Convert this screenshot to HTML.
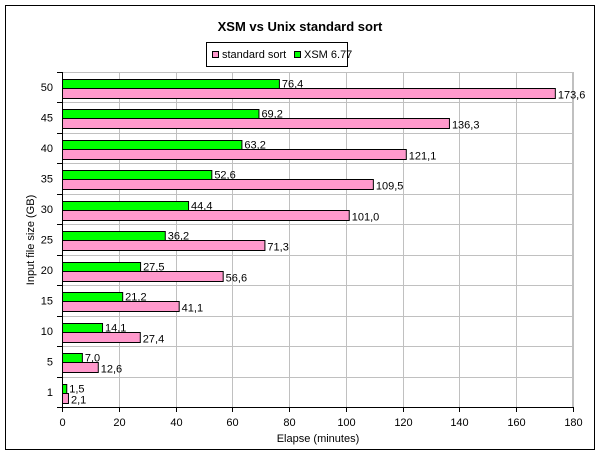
<!DOCTYPE html><html><head><style>body{margin:0;background:#fff}svg{display:block}text{font-family:"Liberation Sans",Arial,sans-serif;font-size:11px;fill:#000}</style></head><body>
<svg width="601" height="457" xmlns="http://www.w3.org/2000/svg">
<rect x="5.5" y="5.5" width="589" height="444" fill="#fff" stroke="#000"/>
<text x="300" y="31" text-anchor="middle" style="font-size:13px;font-weight:bold">XSM vs Unix  standard sort</text>
<rect x="206.5" y="42.5" width="141" height="24" fill="#fff" stroke="#000"/>
<rect x="212.5" y="51.5" width="6" height="6" fill="#f9c" stroke="#000"/>
<text x="222" y="58">standard sort</text>
<rect x="294.5" y="51.5" width="6" height="6" fill="#0f0" stroke="#000"/>
<text x="304" y="58">XSM 6.77</text>
<g id="plot"></g>
<text x="318" y="442" text-anchor="middle">Elapse (minutes)</text>
<text transform="translate(34,240) rotate(-90)" text-anchor="middle">Input file size (GB)</text>
</svg>
<script>
const g=document.getElementById('plot');const ns='http://www.w3.org/2000/svg';
function el(t,a,txt){const e=document.createElementNS(ns,t);for(const k in a)e.setAttribute(k,a[k]);if(txt!=null)e.textContent=txt;g.appendChild(e);return e;}
const L=62,R=573,T=72,B=407,sc=(R-L)/180,ch=(B-T)/11;
for(let i=1;i<=9;i++){const x=Math.round(L+i*20*sc)+.5;el('line',{x1:x,x2:x,y1:T,y2:B,stroke:'#c0c0c0'});}
for(let i=1;i<11;i++){const y=Math.round(T+i*ch)+.5;el('line',{x1:L,x2:R,y1:y,y2:y,stroke:'#c0c0c0'});}
el('rect',{x:L+.5,y:T+.5,width:R-L-1,height:B-T,fill:'none',stroke:'#c0c0c0'});
const cats=['50','45','40','35','30','25','20','15','10','5','1'];
const xsm=[76.4,69.2,63.2,52.6,44.4,36.2,27.5,21.2,14.1,7.0,1.5];
const std=[173.6,136.3,121.1,109.5,101.0,71.3,56.6,41.1,27.4,12.6,2.1];
cats.forEach((c,i)=>{const y0=T+i*ch;const gy=Math.round(y0+7)+.5;
const gw=xsm[i]*sc,pw=std[i]*sc;
el('rect',{x:L+.5,y:gy,width:gw,height:9,fill:'#0f0',stroke:'#000'});
el('rect',{x:L+.5,y:gy+9,width:pw,height:10,fill:'#f9c',stroke:'#000'});
el('text',{x:L+gw+3,y:gy+8},xsm[i].toFixed(1).replace('.',','));
el('text',{x:L+pw+3,y:gy+19},std[i].toFixed(1).replace('.',','));
el('text',{x:53,y:y0+ch/2+4,'text-anchor':'end'},c);
el('line',{x1:57,x2:L,y1:Math.round(y0)+.5,y2:Math.round(y0)+.5,stroke:'#000'});});
el('line',{x1:57,x2:L,y1:B+.5,y2:B+.5,stroke:'#000'});
el('line',{x1:L+.5,x2:L+.5,y1:T,y2:B+1,stroke:'#000'});
el('line',{x1:L,x2:R+1,y1:B+.5,y2:B+.5,stroke:'#000'});
for(let i=0;i<=9;i++){const x=Math.round(L+i*20*sc)+.5;el('line',{x1:x,x2:x,y1:B,y2:B+5,stroke:'#000'});el('text',{x:x,y:B+19,'text-anchor':'middle'},String(i*20));}
</script>
</body></html>
